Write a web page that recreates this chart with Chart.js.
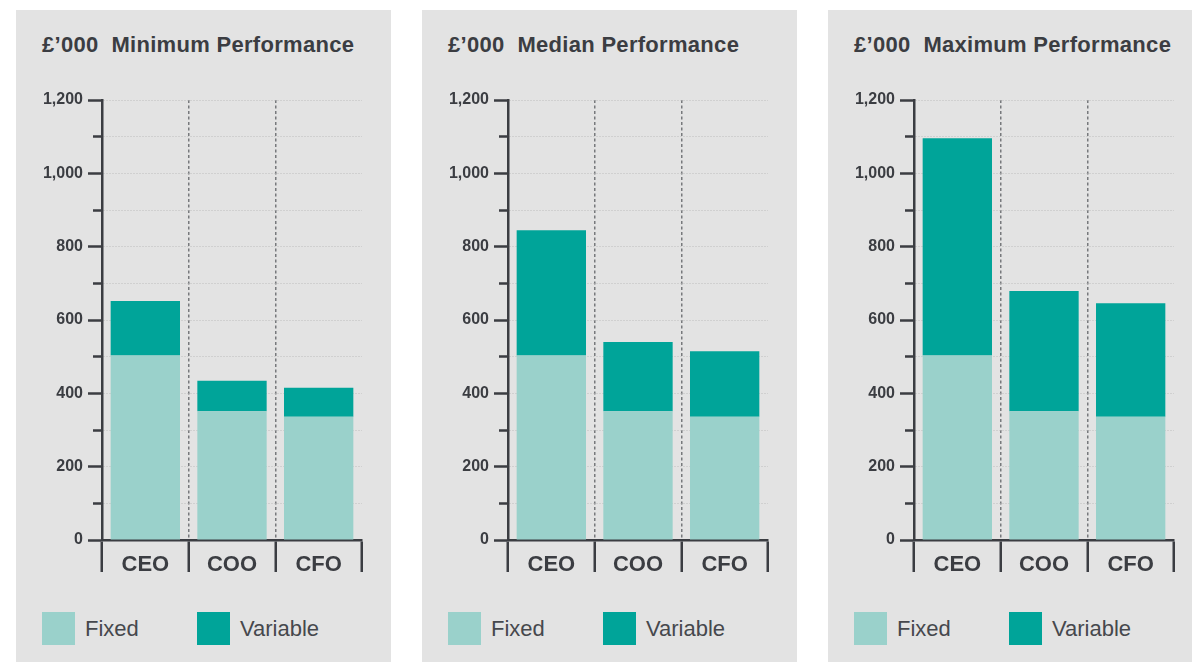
<!DOCTYPE html>
<html>
<head>
<meta charset="utf-8">
<script src="https://cdn.jsdelivr.net/npm/chart.js@4"></script>
<style>
  html, body { margin: 0; padding: 0; background: #ffffff; overflow: hidden; }
  body { width: 1192px; height: 662px; position: relative; font-family: "Liberation Sans", Arial, sans-serif; }
  .panel { position: absolute; top: 10px; width: 375px; height: 660px; background: #e3e3e3; }
  .panel h2 { position: absolute; left: 26px; top: 24px; margin: 0; font-size: 22px; line-height: 22px;
              font-weight: bold; color: #3b3d42; letter-spacing: 0.3px; white-space: pre; }
  .panel .chart { position: absolute; left: 0; top: 70px; width: 375px; height: 500px; }
  .legend .box { position: absolute; top: 602px; width: 33px; height: 33px; }
  .legend span { position: absolute; top: 608px; font-size: 22px; line-height: 22px; color: #46484d; }
</style>
</head>
<body>
<script>
// Datos (£'000)
const categories     = ['CEO', 'COO', 'CFO'];
const fixedPay       = [503, 351, 336];
const variableMin    = [149, 83, 79];
const variableMedian = [342, 189, 179];
const variableMax    = [593, 328, 310];
const panelTitles    = ['Minimum Performance', 'Median Performance', 'Maximum Performance'];
const panelVariable  = [variableMin, variableMedian, variableMax];
const panelLefts     = [16, 422, 828];
const seriesLabels   = ['Fixed', 'Variable'];

const COLOR_FIXED    = '#9ad1cb';
const COLOR_VARIABLE = '#00a499';
const INK            = '#3b3d42';
const FONT           = '"Liberation Sans", Arial, sans-serif';

/** Crea un panel gris con título, canvas y leyenda HTML. */
function buildPanel(i) {
  const panel = document.createElement('div');
  panel.className = 'panel';
  panel.style.left = panelLefts[i] + 'px';

  const title = document.createElement('h2');
  title.textContent = '£’000  ' + panelTitles[i];
  panel.appendChild(title);

  const wrap = document.createElement('div');
  wrap.className = 'chart';
  const canvas = document.createElement('canvas');
  wrap.appendChild(canvas);
  panel.appendChild(wrap);

  // Leyenda: cuadrado + texto
  const legend = document.createElement('div');
  legend.className = 'legend';
  const legendLayout = [
    { color: COLOR_FIXED,    box: 26,  text: 69 },
    { color: COLOR_VARIABLE, box: 181, text: 224 },
  ];
  legendLayout.forEach((l, k) => {
    const box = document.createElement('div');
    box.className = 'box';
    box.style.left = l.box + 'px';
    box.style.background = l.color;
    const txt = document.createElement('span');
    txt.style.left = l.text + 'px';
    txt.textContent = seriesLabels[k];
    legend.appendChild(box);
    legend.appendChild(txt);
  });
  panel.appendChild(legend);

  document.body.appendChild(panel);
  return canvas;
}

/** Gráfica de barras apiladas Fixed + Variable para un escenario. */
function renderPanel(i) {
  const ctx = buildPanel(i);

  new Chart(ctx, {
    type: 'bar',
    data: {
      labels: categories,
      datasets: [
        { label: seriesLabels[0], data: fixedPay,         backgroundColor: COLOR_FIXED,    borderWidth: 0 },
        { label: seriesLabels[1], data: panelVariable[i], backgroundColor: COLOR_VARIABLE, borderWidth: 0 },
      ],
    },
    options: {
      responsive:          true,
      maintainAspectRatio: false,
      animation:           false,
      categoryPercentage:  0.8,
      barPercentage:       1,
      layout: { padding: { left: 0, right: 29, top: 20, bottom: 0 } },
      plugins: {
        legend:  { display: false },
        tooltip: { enabled: false },
      },
      scales: {
        x: {
          stacked: true,
          afterFit: (s) => { s.height = 40; },
          grid: {
            offset:        true,
            // solo los separadores interiores van punteados
            color:         (c) => (c.index === 1 || c.index === 2) ? '#77797c' : 'transparent',
            lineWidth:     1.5,
            tickLength:    32,
            tickWidth:     2.5,
            tickColor:     INK,
            tickBorderDash: [],
          },
          border: { display: true, color: INK, width: 2.5, dash: [3, 2.5] },
          ticks: {
            color:   INK,
            padding: -20,
            font:    { family: FONT, size: 22, weight: 'bold' },
          },
        },
        y: {
          stacked: true,
          min: 0,
          max: 1200,
          afterFit: (s) => { s.width = 86; },
          grid: {
            color:          '#bdbdbd',
            lineWidth:      1,
            tickLength:     14,
            tickWidth:      2.5,
            tickColor:      INK,
            // ticks menores más cortos
            tickBorderDash: (c) => (c.tick && c.tick.value % 200 !== 0) ? [0, 5, 9, 60] : [],
          },
          border: { display: true, color: INK, width: 2.5, dash: [1, 2] },
          ticks: {
            stepSize: 100,
            color:    INK,
            padding:  5,
            font:     { family: FONT, size: 16, weight: 'bold' },
            callback: (v) => (v % 200 === 0 ? v.toLocaleString('en-GB') : ''),
          },
        },
      },
    },
  });
}

panelTitles.forEach((_, i) => renderPanel(i));
</script>
</body>
</html>
